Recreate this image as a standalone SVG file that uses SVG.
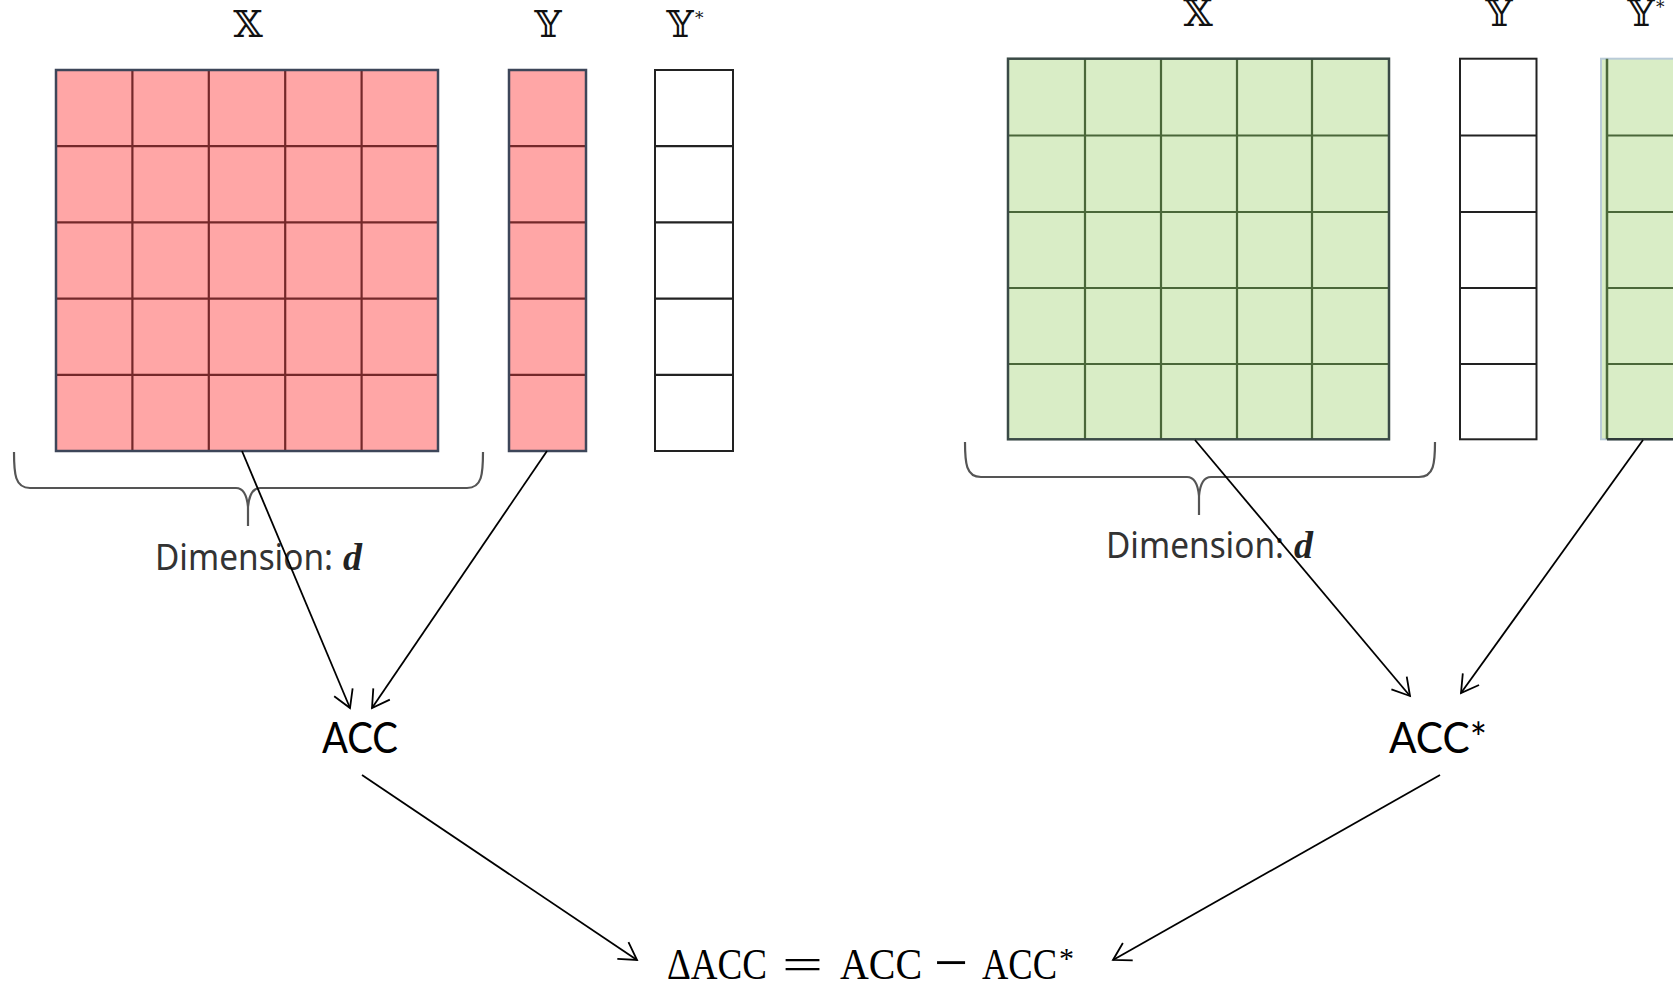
<svg xmlns="http://www.w3.org/2000/svg" width="1673" height="985" viewBox="0 0 1673 985">
  <defs>
    <style>
      .bb { font-family: "DejaVu Serif", "DejaVu Sans", serif; font-size: 38px; fill: #111; text-anchor: middle; }
      .sup { font-family: "DejaVu Serif", serif; font-size: 17px; fill: #111; }
      .red { fill: #FFA6A6; }
      .green { fill: #D9EDC6; }
      .frame { fill: none; stroke: #3d4659; stroke-width: 2.5; }
      .gridR { stroke: #74282a; stroke-width: 2.2; }
      .gridG { stroke: #4a6739; stroke-width: 2.2; }
      .plain { fill: #fff; stroke: #222; stroke-width: 2; }
      .gridK { stroke: #222; stroke-width: 2.2; }
      .brace { fill: none; stroke: #555; stroke-width: 2.2; stroke-linejoin: round; }
      .dim { font-family: "Noto Sans", "Open Sans", sans-serif; font-size: 36px; fill: #333; }
      .dvar { font-family: "Liberation Serif", serif; font-size: 38px; font-weight: bold; font-style: italic; fill: #222; }
      .acc { font-family: Lato, "Liberation Sans", sans-serif; font-size: 42px; fill: #000; }
      .math { font-family: "Liberation Serif", "DejaVu Serif", serif; font-size: 44px; fill: #000; }
      .conn { stroke: #000; stroke-width: 1.8; fill: none; marker-end: url(#arr); }
    </style>
    <marker id="arr" viewBox="-20 -12 24 24" refX="0" refY="0" markerWidth="24" markerHeight="24" orient="auto" markerUnits="userSpaceOnUse">
      <path d="M-17,-10 L0,0 L-17,10" fill="none" stroke="#000" stroke-width="1.8"/>
    </marker>
  </defs>

  <rect width="1673" height="985" fill="#fff"/>

  <!-- left panel: X matrix (red) -->
  <g id="x-left">
    <text class="bb" x="248" y="37">𝕏</text>
    <rect class="red" x="56" y="70" width="382" height="381"/>
    <g class="gridR">
      <line x1="132.4" y1="70" x2="132.4" y2="451"/>
      <line x1="208.8" y1="70" x2="208.8" y2="451"/>
      <line x1="285.2" y1="70" x2="285.2" y2="451"/>
      <line x1="361.6" y1="70" x2="361.6" y2="451"/>
      <line x1="56" y1="146.2" x2="438" y2="146.2"/>
      <line x1="56" y1="222.4" x2="438" y2="222.4"/>
      <line x1="56" y1="298.6" x2="438" y2="298.6"/>
      <line x1="56" y1="374.8" x2="438" y2="374.8"/>
    </g>
    <rect class="frame" x="56" y="70" width="382" height="381"/>
  </g>

  <!-- left panel: Y column (red) -->
  <g id="y-left">
    <text class="bb" x="548" y="37">𝕐</text>
    <rect class="red" x="509" y="70" width="77" height="381"/>
    <g class="gridR">
      <line x1="509" y1="146.2" x2="586" y2="146.2"/>
      <line x1="509" y1="222.4" x2="586" y2="222.4"/>
      <line x1="509" y1="298.6" x2="586" y2="298.6"/>
      <line x1="509" y1="374.8" x2="586" y2="374.8"/>
    </g>
    <rect class="frame" x="509" y="70" width="77" height="381"/>
  </g>

  <!-- left panel: Y* column (empty) -->
  <g id="ystar-left">
    <text class="bb" x="680" y="37">𝕐</text>
    <text class="sup" x="695" y="24">*</text>
    <rect class="plain" x="655" y="70" width="78" height="381"/>
    <g class="gridK">
      <line x1="655" y1="146.2" x2="733" y2="146.2"/>
      <line x1="655" y1="222.4" x2="733" y2="222.4"/>
      <line x1="655" y1="298.6" x2="733" y2="298.6"/>
      <line x1="655" y1="374.8" x2="733" y2="374.8"/>
    </g>
  </g>

  <!-- left panel: dimension brace -->
  <g id="dim-left">
    <path class="brace" d="M14,452 C14,474 15,488 30,488 L236,488 C244,488 247,496 248,507 L248,526 M248,507 C249,496 252,488 260,488 L467,488 C482,488 483,474 483,452"/>
    <text class="dim" x="155" y="570" textLength="178" lengthAdjust="spacingAndGlyphs">Dimension:</text>
    <text class="dvar" x="343" y="570">d</text>
  </g>

  <!-- left panel: accuracy -->
  <g id="acc">
    <text class="acc" x="322" y="753" textLength="76" lengthAdjust="spacingAndGlyphs">ACC</text>
  </g>

  <!-- right panel: X matrix (green) -->
  <g id="x-right">
    <text class="bb" x="1198" y="26">𝕏</text>
    <rect class="green" x="1008" y="58.7" width="381" height="380.6"/>
    <g class="gridG">
      <line x1="1085" y1="58.7" x2="1085" y2="439.3"/>
      <line x1="1161" y1="58.7" x2="1161" y2="439.3"/>
      <line x1="1237" y1="58.7" x2="1237" y2="439.3"/>
      <line x1="1312" y1="58.7" x2="1312" y2="439.3"/>
      <line x1="1008" y1="135.5" x2="1389" y2="135.5"/>
      <line x1="1008" y1="212" x2="1389" y2="212"/>
      <line x1="1008" y1="288" x2="1389" y2="288"/>
      <line x1="1008" y1="364" x2="1389" y2="364"/>
    </g>
    <rect class="frame" x="1008" y="58.7" width="381" height="380.6" style="stroke:#3a4a46"/>
  </g>

  <!-- right panel: Y column (empty) -->
  <g id="y-right">
    <text class="bb" x="1499" y="26">𝕐</text>
    <rect class="plain" x="1460" y="58.7" width="76.5" height="380.6"/>
    <g class="gridK">
      <line x1="1460" y1="135.5" x2="1536.5" y2="135.5"/>
      <line x1="1460" y1="212" x2="1536.5" y2="212"/>
      <line x1="1460" y1="288" x2="1536.5" y2="288"/>
      <line x1="1460" y1="364" x2="1536.5" y2="364"/>
    </g>
  </g>

  <!-- right panel: Y* column (green), running past the edge -->
  <g id="ystar-right">
    <text class="bb" x="1641" y="26">𝕐</text>
    <text class="sup" x="1656" y="13">*</text>
    <rect class="green" x="1601" y="58.7" width="90" height="380.6" stroke="#b9cbd8" stroke-width="2"/>
    <g class="gridG">
      <line x1="1607" y1="58.7" x2="1607" y2="439.3" style="stroke-width:2.5"/>
      <line x1="1607" y1="135.5" x2="1680" y2="135.5"/>
      <line x1="1607" y1="212" x2="1680" y2="212"/>
      <line x1="1607" y1="288" x2="1680" y2="288"/>
      <line x1="1607" y1="364" x2="1680" y2="364"/>
    </g>
    <line x1="1607" y1="439.3" x2="1680" y2="439.3" stroke="#2f3a3a" stroke-width="2.5"/>
  </g>

  <!-- right panel: dimension brace -->
  <g id="dim-right">
    <path class="brace" d="M965,442 C965,463 966,477 981,477 L1187,477 C1195,477 1198,485 1199,496 L1199,515 M1199,496 C1200,485 1203,477 1211,477 L1419,477 C1434,477 1435,463 1435,442"/>
    <text class="dim" x="1106" y="558" textLength="178" lengthAdjust="spacingAndGlyphs">Dimension:</text>
    <text class="dvar" x="1294" y="558">d</text>
  </g>

  <!-- right panel: accuracy -->
  <g id="acc-star">
    <text class="acc" x="1389" y="753" textLength="98" lengthAdjust="spacingAndGlyphs">ACC*</text>
  </g>

  <!-- difference formula -->
  <g id="delta-acc">
    <text class="math" x="667" y="979" textLength="100" lengthAdjust="spacingAndGlyphs">ΔACC</text>
    <text class="math" x="782" y="979" textLength="41" lengthAdjust="spacingAndGlyphs">=</text>
    <text class="math" x="840" y="979" textLength="82" lengthAdjust="spacingAndGlyphs">ACC</text>
    <text class="math" x="934" y="982" textLength="34" lengthAdjust="spacingAndGlyphs" style="font-size:58px">−</text>
    <text class="math" x="982" y="979" textLength="75" lengthAdjust="spacingAndGlyphs">ACC</text>
    <text class="math" x="1059" y="968" style="font-size:30px">*</text>
  </g>

  <!-- connectors -->
  <g id="connectors">
    <line class="conn" x1="242" y1="451" x2="350" y2="708"/>
    <line class="conn" x1="547" y1="451" x2="372" y2="708"/>
    <line class="conn" x1="1195" y1="440" x2="1410" y2="696"/>
    <line class="conn" x1="1643" y1="440" x2="1461" y2="693"/>
    <line class="conn" x1="362" y1="775" x2="637" y2="960"/>
    <line class="conn" x1="1440" y1="775" x2="1113" y2="960"/>
  </g>
</svg>
